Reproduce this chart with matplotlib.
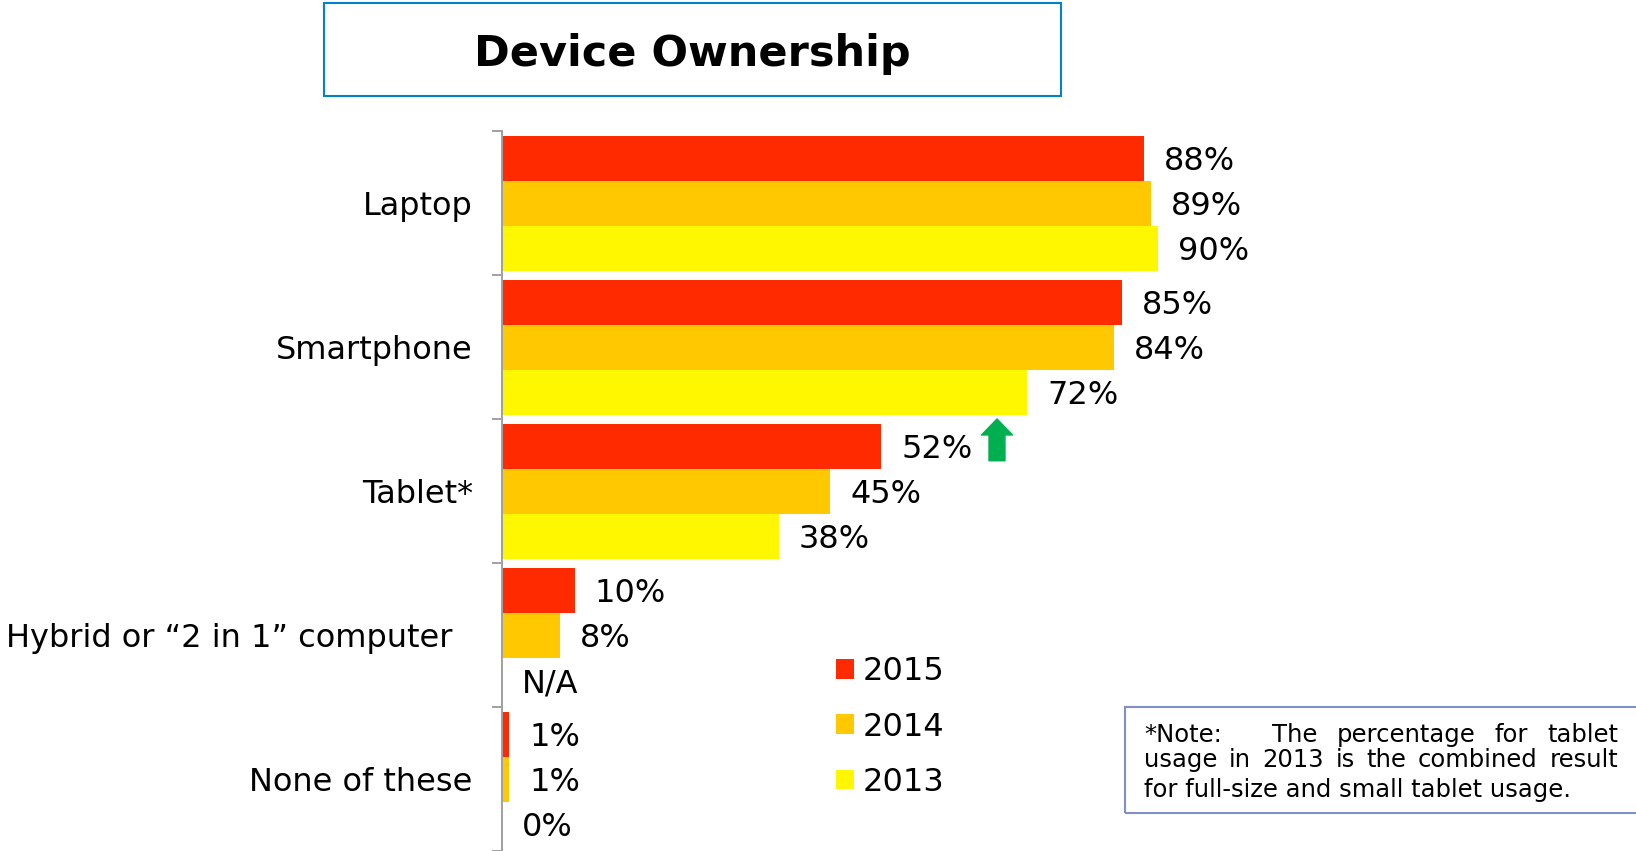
"""
Device Ownership - barres horizontales groupées (2015 / 2014 / 2013).
"""
import numpy as np
import matplotlib
matplotlib.use("Agg")
import matplotlib.pyplot as plt
import matplotlib.transforms as mtransforms
from matplotlib.patches import Rectangle

# Données
categories = ["Laptop", "Smartphone", "Tablet*", "Hybrid or \u201c2 in 1\u201d computer", "None of these"]
annees = ["2015", "2014", "2013"]
v2015 = [88, 85, 52, 10, 1]
v2014 = [89, 84, 45, 8, 1]
v2013 = [90, 72, 38, None, 0]
couleurs = ["#FF2A00", "#FFC800", "#FFF700"]

titre = "Device Ownership"
note_lignes = [
    ["*Note:", "The", "percentage", "for", "tablet"],
    ["usage", "in", "2013", "is", "the", "combined", "result"],
]
note_derniere = "for full-size and small tablet usage."

W, H = 1636, 851


def fx(px):
    return px / W


def fy(py):
    return 1 - py / H


fig = plt.figure(figsize=(W / 100, H / 100), dpi=100)
ax = fig.add_axes([fx(502), 0, 729 / W, 720 / H])

y = np.arange(len(categories))
h = 0.3125
series = [v2015, v2014, v2013]

for k, (vals, coul, annee) in enumerate(zip(series, couleurs, annees)):
    pos = y + (k - 1) * h
    ok = [i for i, v in enumerate(vals) if v is not None]
    ax.barh(pos[ok], [vals[i] for i in ok], height=h, color=coul, label=annee)
    for i, v in enumerate(vals):
        txt = "N/A" if v is None else f"{v}%"
        ax.annotate(txt, xy=(v or 0, pos[i]), xytext=(14.4, -2.8),
                    textcoords="offset points", ha="left", va="center",
                    fontsize=23, color="black")

ax.set_xlim(0, 100)
ax.set_ylim(len(categories) - 0.5, -0.5)

for s in ["top", "right", "bottom"]:
    ax.spines[s].set_visible(False)
ax.spines["left"].set_color("#A0A0A0")
ax.spines["left"].set_linewidth(1.4)
ax.set_xticks([])

# libellés de catégories au centre, petites marques aux limites
ax.set_yticks(y)
ax.set_yticklabels(categories, fontsize=23)
ax.tick_params(axis="y", which="major", length=0, pad=21)
ax.set_yticks(np.arange(len(categories) + 1) - 0.5, minor=True)
ax.tick_params(axis="y", which="minor", length=7.2, width=1.4, color="#A0A0A0")

# le libellé "Hybrid" est décalé vers la gauche
lab = ax.get_yticklabels()[3]
lab.set_transform(lab.get_transform() + mtransforms.ScaledTranslation(-20 / 100, 0, fig.dpi_scale_trans))

# flèche verte à côté de 52%
ax.annotate("", xy=(67.9, 1.5), xytext=(67.9, 1.79),
            arrowprops=dict(arrowstyle="simple,head_length=1.15,head_width=2.23,tail_width=1.15",
                            color="#00B050", mutation_scale=10, shrinkA=0, shrinkB=0))

# légende
ax.legend(loc="center left", bbox_to_anchor=(fx(836), fy(727)), bbox_transform=fig.transFigure,
          frameon=False, fontsize=23, handlelength=0.57, handleheight=0.57,
          handletextpad=0.25, labelspacing=0.76, borderpad=0, borderaxespad=0)

# cadre du titre
fig.patches.append(Rectangle((fx(324), fy(96)), (1061 - 324) / W, 93 / H,
                             transform=fig.transFigure, fill=False,
                             edgecolor="#0083C9", linewidth=1.5))
fig.text(fx(692), fy(54), titre, ha="center", va="center",
         fontsize=31, fontweight="bold")

# cadre de la note
fig.patches.append(Rectangle((fx(1125), fy(813)), (W - 1125 + 10) / W, 106 / H,
                             transform=fig.transFigure, fill=False,
                             edgecolor="#7E8FC9", linewidth=1.5))

renderer = fig.canvas.get_renderer()
x0, x1 = 1144, 1618
baselines = [742, 767, 797]
for ligne, base, poids in zip(note_lignes, baselines, [[2.6, 1, 1, 1], None]):
    textes = [fig.text(0, fy(base), m, fontsize=17.5, va="baseline", ha="left") for m in ligne]
    largeurs = [t.get_window_extent(renderer).width for t in textes]
    if poids is None:
        poids = [1] * (len(ligne) - 1)
    espace = (x1 - x0 - sum(largeurs)) / sum(poids)
    x = x0
    for i, t in enumerate(textes):
        t.set_x(fx(x))
        x += largeurs[i]
        if i < len(poids):
            x += espace * poids[i]
fig.text(fx(x0), fy(baselines[2]), note_derniere, fontsize=17.5, va="baseline", ha="left")

fig.savefig("out.png", dpi=100)
